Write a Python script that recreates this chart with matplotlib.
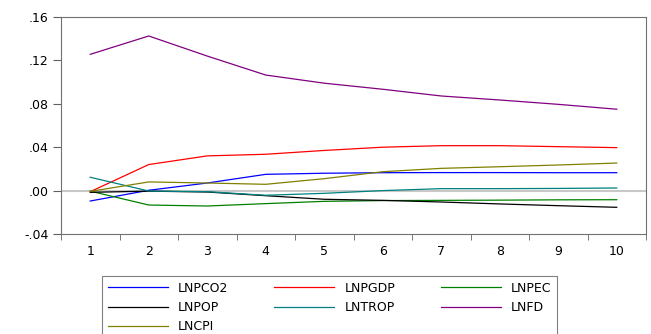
import numpy as np
import matplotlib.pyplot as plt
import matplotlib.ticker as mticker

plt.rcParams["font.family"] = ["DejaVu Sans"]

periods = np.arange(1, 11)

lnpco2 = [-0.0096, 0.0003, 0.0070, 0.0150, 0.0160, 0.0165, 0.0166, 0.0166, 0.0165, 0.0165]
lnpgdp = [-0.0010, 0.0240, 0.0320, 0.0335, 0.0370, 0.0400, 0.0414, 0.0414, 0.0405, 0.0396]
lnpec = [-0.0005, -0.0133, -0.0142, -0.0120, -0.0099, -0.0092, -0.0090, -0.0088, -0.0085, -0.0084]
lnpop = [-0.0016, -0.0005, -0.0013, -0.0047, -0.0080, -0.0090, -0.0105, -0.0123, -0.0139, -0.0154]
lntrop = [0.0123, -0.0004, -0.0010, -0.0043, -0.0025, 0.0000, 0.0018, 0.0018, 0.0020, 0.0024]
lnfd = [0.1256, 0.1425, 0.1240, 0.1065, 0.0990, 0.0934, 0.0872, 0.0835, 0.0795, 0.0750]
lncpi = [-0.0007, 0.0080, 0.0070, 0.0058, 0.0110, 0.0174, 0.0205, 0.0220, 0.0236, 0.0254]

series = [
    ("LNPCO2", lnpco2, "#0000ff"),
    ("LNPGDP", lnpgdp, "#ff0000"),
    ("LNPEC", lnpec, "#008000"),
    ("LNPOP", lnpop, "#000000"),
    ("LNTROP", lntrop, "#008080"),
    ("LNFD", lnfd, "#800080"),
    ("LNCPI", lncpi, "#808000"),
]

fig = plt.figure(figsize=(6.51, 3.34), dpi=100)
ax = fig.add_axes([61 / 651, 1 - 234 / 334, 585 / 651, 217 / 334])

ax.axhline(0, color="#c8c8c8", linewidth=1.5, zorder=1)
lines = {}
for name, vals, col in series:
    ln = ax.plot(periods, vals, color=col, linewidth=0.9, label=name, zorder=2)[0]
    lines[name] = ln

ax.set_xlim(0.5, 10.5)
ax.set_ylim(-0.04, 0.16)
ax.set_yticks([-0.04, 0.0, 0.04, 0.08, 0.12, 0.16])
ax.yaxis.set_major_formatter(mticker.FuncFormatter(
    lambda v, p: ("-" if v < -1e-9 else "") + ("%.2f" % abs(v))[1:]))
ax.set_xticks(periods)
ax.set_xticks(np.arange(0.5, 11, 1), minor=True)
ax.tick_params(axis="x", which="major", length=0, pad=8, labelsize=9)
ax.tick_params(axis="x", which="minor", length=4, color="#606060")
ax.tick_params(axis="y", length=6, color="#606060", labelsize=9, pad=3)
for s in ax.spines.values():
    s.set_color("#707070")
    s.set_linewidth(0.8)

# legend is filled row by row in the reference, matplotlib fills by column
order = ["LNPCO2", "LNPOP", "LNCPI", "LNPGDP", "LNTROP", "LNPEC", "LNFD"]
leg = fig.legend([lines[n] for n in order], order, ncol=3, loc="upper left",
                 bbox_to_anchor=(102 / 651, 1 - 276 / 334), borderaxespad=0,
                 fontsize=9, handlelength=4.8, handletextpad=0.8,
                 columnspacing=3.7, labelspacing=0.5, borderpad=0.45,
                 fancybox=False, framealpha=1, edgecolor="#808080")
leg.get_frame().set_linewidth(0.8)

fig.savefig("out.png", dpi=100)
